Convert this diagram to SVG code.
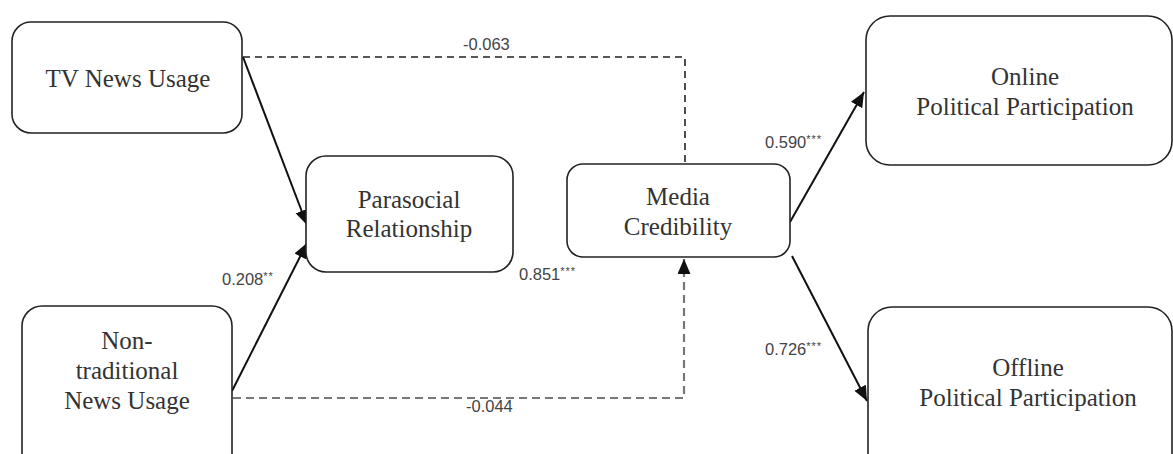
<svg xmlns="http://www.w3.org/2000/svg" width="1173" height="454" viewBox="0 0 1173 454">
<style>
.box{fill:#fff;stroke:#222;stroke-width:1.6}
.t{font-family:"Liberation Serif","Times New Roman",serif;font-size:25px;fill:#333;text-anchor:middle}
.lbl{font-family:"Liberation Sans",Arial,sans-serif;font-size:16.5px;fill:#444}
.sup{font-size:11px;letter-spacing:1px}
.solid{fill:none;stroke:#111;stroke-width:2}
.dash1{fill:none;stroke:#222;stroke-width:1.6;stroke-dasharray:7 5}
.dash2{fill:none;stroke:#777;stroke-width:2.2;stroke-dasharray:8 5}
</style>
<defs>
<marker id="arr" markerUnits="userSpaceOnUse" markerWidth="16" markerHeight="14" refX="15" refY="6.5" orient="auto">
<path d="M0,0 L15,6.5 L0,13 z" fill="#111"/>
</marker>
</defs>
<rect width="1173" height="454" fill="#fff"/>
<g id="connectors">
<path class="dash1" d="M243,57 H685 V164"/>
<path class="dash2" d="M233,398 H684 V259" marker-end="url(#arr)"/>
<line class="solid" x1="243" y1="57" x2="307" y2="225" marker-end="url(#arr)"/>
<line class="solid" x1="232" y1="391" x2="307" y2="243" marker-end="url(#arr)"/>
<line class="solid" x1="790" y1="222" x2="864" y2="92" marker-end="url(#arr)"/>
<line class="solid" x1="792" y1="256" x2="867" y2="401" marker-end="url(#arr)"/>
<text class="lbl" x="463" y="50">-0.063</text>
<text class="lbl" x="466" y="412">-0.044</text>
<text class="lbl" x="222" y="285">0.208<tspan class="sup" dy="-5">**</tspan></text>
<text class="lbl" x="519" y="280">0.851<tspan class="sup" dy="-5">***</tspan></text>
<text class="lbl" x="765" y="148">0.590<tspan class="sup" dy="-5">***</tspan></text>
<text class="lbl" x="765" y="355">0.726<tspan class="sup" dy="-5">***</tspan></text>
</g>
<g id="tv">
<rect class="box" x="12" y="22" width="230" height="111" rx="19"/>
<text class="t" x="128" y="87">TV News Usage</text>
</g>
<g id="nontrad">
<rect class="box" x="22" y="306" width="210" height="175" rx="20"/>
<text class="t" x="127" y="349">Non-</text>
<text class="t" x="127" y="379">traditional</text>
<text class="t" x="127" y="409">News Usage</text>
</g>
<g id="parasocial">
<rect class="box" x="306" y="156" width="207" height="116" rx="20"/>
<text class="t" x="409" y="208">Parasocial</text>
<text class="t" x="409" y="237">Relationship</text>
</g>
<g id="media">
<rect class="box" x="567" y="164" width="223" height="93" rx="16"/>
<text class="t" x="678" y="205">Media</text>
<text class="t" x="678" y="235">Credibility</text>
</g>
<g id="online">
<rect class="box" x="866" y="16" width="306" height="149" rx="24"/>
<text class="t" x="1025" y="85">Online</text>
<text class="t" x="1025" y="115">Political Participation</text>
</g>
<g id="offline">
<rect class="box" x="868" y="307" width="304" height="175" rx="24"/>
<text class="t" x="1028" y="376">Offline</text>
<text class="t" x="1028" y="406">Political Participation</text>
</g>
</svg>
